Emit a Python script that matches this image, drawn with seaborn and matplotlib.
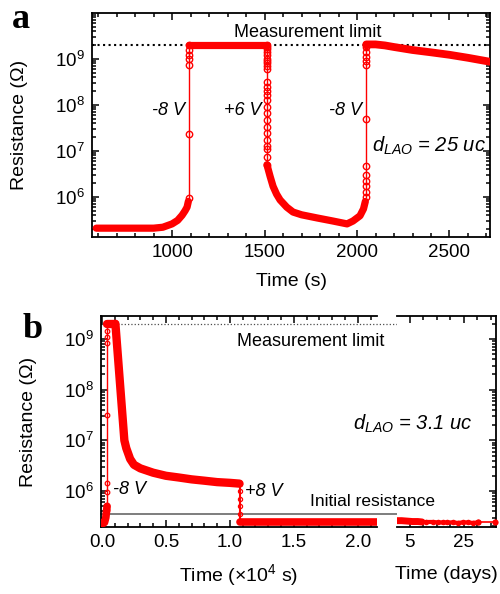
import matplotlib
matplotlib.use("Agg")
import numpy as np
import pandas as pd
import seaborn as sns
import matplotlib.pyplot as plt
from matplotlib.ticker import MultipleLocator, NullFormatter

# ---------------- panel a : d_LAO = 25 uc, time in s ----------------
a_base_t = [590, 700, 800, 900, 950, 1000, 1030, 1054, 1070, 1081, 1088]
a_base_r = [2.1e5, 2.1e5, 2.1e5, 2.1e5, 2.2e5, 2.6e5, 3.1e5, 4.0e5, 5.0e5, 6.0e5, 8.0e5]

a_set1_t = 1092
a_set1_r = [9.5e5, 2.35e7, 7.4e8, 1.0e9, 1.22e9, 1.57e9, 2.0e9]

a_plat_t = [1092, 1300, 1513]
a_plat_r = [2.0e9, 2.0e9, 2.0e9]

a_reset_t = 1513
a_reset_r = [2.0e9, 1.8e9, 1.6e9, 1.4e9, 1.2e9, 1.0e9, 9e8, 8e8, 7e8, 6e8,
             3.2e8, 2.5e8, 2.0e8, 1.6e8, 1.3e8, 9e7, 6.7e7, 4.7e7, 3.3e7,
             2.5e7, 1.7e7, 1.3e7, 1.1e7, 7.4e6, 5e6]

a_decay_t = [1513, 1530, 1546, 1565, 1584, 1620, 1654, 1700, 1784, 1870, 1946, 1978, 2016, 2035, 2045]
a_decay_r = [5e6, 2.8e6, 1.7e6, 1.15e6, 8.6e5, 6e5, 4.7e5, 4.1e5, 3.5e5, 3.0e5, 2.6e5, 3.0e5, 3.9e5, 5.5e5, 8e5]

a_set2_t = 2048
a_set2_r = [1.0e6, 1.3e6, 1.7e6, 2.2e6, 3.0e6, 4.6e6, 5e7, 7.4e8, 9e8, 1.1e9, 1.4e9, 1.8e9, 2.0e9]

a_relax_t = [2050, 2100, 2150, 2200, 2300, 2400, 2500, 2600, 2720]
a_relax_r = [2.05e9, 2.05e9, 1.95e9, 1.8e9, 1.55e9, 1.38e9, 1.22e9, 1.05e9, 8.6e8]

# ---------------- panel b : d_LAO = 3.1 uc, time in 1e4 s / days ----------------
b_pre_t = [0.0, 0.01, 0.02, 0.03, 0.04]
b_pre_r = [2.3e5, 2.3e5, 2.4e5, 3.0e5, 5.0e5]

b_set_t = 0.04
b_set_r = [4.2e5, 9.7e5, 1.44e6, 3.1e7, 8.5e8, 1.1e9, 1.45e9, 2.0e9]

b_plat_t = [0.04, 0.07, 0.105]
b_plat_r = [2.0e9, 2.0e9, 2.0e9]

b_decay_t = [0.105, 0.175, 0.19, 0.22, 0.25, 0.3, 0.4, 0.5, 0.6, 0.7, 0.8, 0.9, 1.0, 1.075]
b_decay_r = [2.0e9, 1.0e7, 7e6, 4.3e6, 3.3e6, 2.8e6, 2.3e6, 2.0e6, 1.85e6, 1.7e6, 1.6e6, 1.5e6, 1.45e6, 1.4e6]

b_reset_t = 1.08
b_reset_r = [1.4e6, 1.0e6, 7e5, 5e5, 3.5e5, 2.6e5]

b_after_t = [1.08, 1.5, 2.0, 2.15]
b_after_r = [2.5e5, 2.5e5, 2.5e5, 2.5e5]

days_dense_t = [0.4, 2, 4, 6, 8, 9.6]
days_dense_r = [2.6e5, 2.6e5, 2.55e5, 2.5e5, 2.5e5, 2.45e5]

days_sparse_t = [11, 13.5, 15.4, 17.2, 19, 20.9, 22.8, 24.6, 26.5, 28.3, 30.2]
days_sparse_r = [2.45e5, 2.45e5, 2.4e5, 2.4e5, 2.4e5, 2.4e5, 2.35e5, 2.4e5, 2.4e5, 2.35e5, 2.4e5]

days_last_t = [30.2, 36.6]
days_last_r = [2.4e5, 2.4e5]

limit_r = 2.0e9
initial_r = 3.5e5

sns.set_theme(style="ticks")
plt.rcParams.update({
    "font.family": ["Liberation Sans", "DejaVu Sans"],
    "mathtext.fontset": "custom",
    "mathtext.rm": "Liberation Sans",
    "mathtext.it": "Liberation Sans:italic",
    "mathtext.bf": "Liberation Sans:bold",
    "axes.edgecolor": "black",
    "axes.linewidth": 1.3,
    "xtick.color": "black",
    "ytick.color": "black",
    "text.color": "black",
    "axes.labelcolor": "black",
})

RED = "#ff0000"


def band(ax, t, r, lw):
    sns.lineplot(x=t, y=r, ax=ax, color=RED, lw=lw, sort=False, estimator=None,
                 solid_capstyle="round", solid_joinstyle="round", zorder=3)


def jump(ax, t, r, ms, lw=1.0, mew=1.0):
    sns.lineplot(x=[t] * len(r), y=r, ax=ax, color=RED, lw=lw, sort=False, estimator=None,
                 marker="o", markersize=ms, markerfacecolor="none",
                 markeredgecolor=RED, markeredgewidth=mew, zorder=4)


def style(ax):
    ax.set_yscale("log")
    ax.tick_params(which="both", direction="in", top=True, right=True,
                   width=1.1, labelsize=13.5, pad=5)
    ax.tick_params(which="major", length=5)
    ax.tick_params(which="minor", length=2.8)
    ax.yaxis.set_minor_formatter(NullFormatter())


fig = plt.figure(figsize=(5, 5.94), dpi=100)

def px(x, y):
    return x / 500, 1 - y / 594

# ---------------- panel a ----------------
ax_a = fig.add_axes([0.184, 0.601, 0.796, 0.3776])
ax_a.axhline(limit_r, color="black", ls=":", lw=1.5, zorder=1)
band(ax_a, a_base_t, a_base_r, 5.2)
jump(ax_a, a_set1_t, a_set1_r, 4.6)
band(ax_a, a_plat_t, a_plat_r, 5.2)
jump(ax_a, a_reset_t, a_reset_r, 4.6)
band(ax_a, a_decay_t, a_decay_r, 5.2)
jump(ax_a, a_set2_t, a_set2_r, 4.6)
band(ax_a, a_relax_t, a_relax_r, 5.6)

style(ax_a)
ax_a.set_xlim(567, 2719)
ax_a.set_ylim(1.35e5, 1e10)
ax_a.set_yticks([1e6, 1e7, 1e8, 1e9])
ax_a.xaxis.set_major_locator(MultipleLocator(500))
ax_a.xaxis.set_minor_locator(MultipleLocator(100))
ax_a.set_xlabel("Time (s)", fontsize=14, va="center")
ax_a.set_ylabel("Resistance (\u03a9)", fontsize=14, va="center")
ax_a.xaxis.set_label_coords(0.5, -0.2)
ax_a.yaxis.set_label_coords(-0.182, 0.5)

ax_a.text(1735, 3.0e9, "Measurement limit", fontsize=13, ha="center", va="baseline")
for tx, lab in [(978, "-8 V"), (1384, "+6 V"), (1935, "-8 V")]:
    ax_a.text(tx, 6.0e7, lab, fontsize=13, style="italic", ha="center", va="baseline")
ax_a.text(2081, 9.5e6, r"$d_{LAO}$ = 25 uc", fontsize=14.5, style="italic",
          ha="left", va="baseline")

# ---------------- panel b ----------------
ax_b1 = fig.add_axes([0.2014, 0.1128, 0.5526, 0.3552])
ax_b2 = fig.add_axes([0.794, 0.1128, 0.198, 0.3552], sharey=ax_b1)

span = (496 - 100.7) / (377 - 100.7)
ax_b1.axhline(limit_r, xmin=0, xmax=span, color="0.3", ls=":", lw=0.9, clip_on=False, zorder=1)
ax_b1.axhline(initial_r, xmin=0, xmax=span, color="0.45", lw=1.3, clip_on=False, zorder=1)

band(ax_b1, b_pre_t, b_pre_r, 5.5)
jump(ax_b1, b_set_t, b_set_r, 3.3, lw=1.0, mew=0.9)
band(ax_b1, b_plat_t, b_plat_r, 6)
band(ax_b1, b_decay_t, b_decay_r, 6)
jump(ax_b1, b_reset_t, b_reset_r, 3.0, lw=1.5, mew=0.9)
band(ax_b1, b_after_t, b_after_r, 5.5)

band(ax_b2, days_dense_t, days_dense_r, 5.0)
sns.lineplot(x=days_sparse_t, y=days_sparse_r, ax=ax_b2, color=RED, lw=3, sort=False,
             estimator=None, marker="o", markersize=4, markeredgewidth=0, zorder=3)
sns.lineplot(x=days_last_t, y=days_last_r, ax=ax_b2, color=RED, lw=1.2, sort=False,
             estimator=None, marker="o", markersize=4.5, markeredgewidth=0, zorder=3,
             clip_on=False)

for ax in (ax_b1, ax_b2):
    style(ax)
ax_b1.set_ylim(1.95e5, 2.85e9)
ax_b1.set_yticks([1e6, 1e7, 1e8, 1e9])
ax_b1.set_xlim(-0.01, 2.15)
ax_b1.xaxis.set_major_locator(MultipleLocator(0.5))
ax_b1.xaxis.set_minor_locator(MultipleLocator(0.1))
ax_b1.spines["right"].set_visible(False)
ax_b1.tick_params(which="both", right=False)

ax_b2.set_xlim(0.3, 37)
ax_b2.set_xticks([5, 25])
ax_b2.xaxis.set_minor_locator(MultipleLocator(5))
ax_b2.spines["left"].set_visible(False)
ax_b2.tick_params(which="both", left=False, labelleft=False)

ax_b1.set_xlabel("Time (\u00d710$^{4}$ s)", fontsize=14, va="center")
ax_b1.set_ylabel("Resistance (\u03a9)", fontsize=14, va="center")
ax_b1.xaxis.set_label_coords(0.5, -0.2275)
ax_b1.yaxis.set_label_coords(-0.263, 0.5)
ax_b2.set_xlabel("Time (days)", fontsize=14, va="center")
ax_b2.xaxis.set_label_coords(0.5, -0.2275)
ax_b2.set_ylabel("")

ax_b1.text(1.635, 7.4e8, "Measurement limit", fontsize=13, ha="center", va="baseline")
ax_b1.text(0.088, 8.6e5, "-8 V", fontsize=13, style="italic", ha="left", va="baseline")
ax_b1.text(1.12, 8.0e5, "+8 V", fontsize=13, style="italic", ha="left", va="baseline")
fig.text(*px(373, 506), "Initial resistance", fontsize=12.5, ha="center", va="baseline")
fig.text(*px(353, 430), r"$d_{LAO}$ = 3.1 uc", fontsize=14.5, style="italic",
         ha="left", va="baseline")

# panel letters
fig.text(*px(12, 28), "a", fontsize=26, fontweight="bold", family="Liberation Serif",
         ha="left", va="baseline")
fig.text(*px(23, 338), "b", fontsize=26, fontweight="bold", family="Liberation Serif",
         ha="left", va="baseline")

plt.savefig("out.png", dpi=100)
